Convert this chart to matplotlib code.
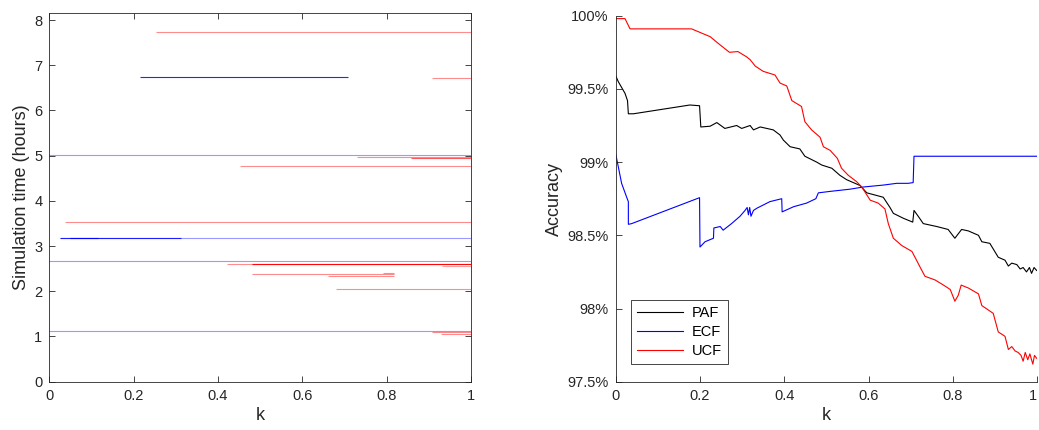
import matplotlib
matplotlib.use("Agg")
import matplotlib.pyplot as plt
from matplotlib.ticker import FuncFormatter

plt.rcParams['font.family'] = ['Liberation Sans', 'DejaVu Sans']
plt.rcParams['font.size'] = 10

# ---- left panel: run intervals over k (start, end, hours, opacity) ----
ecf_start = [0.214, 0.0, 0.026, 0.026, 0.05, 0.0, 0.0]
ecf_end = [0.708, 1.0, 1.0, 0.312, 0.115, 1.0, 1.0]
ecf_time = [6.73, 5.01, 3.175, 3.175, 3.18, 2.667, 1.13]
ecf_alpha = [0.85, 0.4, 0.4, 0.8, 0.9, 0.4, 0.4]

ucf_start = [0.254, 0.908, 0.73, 0.858, 0.451, 0.036, 0.422, 0.48, 0.93,
             0.481, 0.79, 0.66, 0.68, 0.908, 0.928]
ucf_end = [1.0, 1.0, 1.0, 1.0, 1.0, 1.0, 1.0, 1.0, 1.0,
           0.817, 0.817, 0.817, 1.0, 1.0, 1.0]
ucf_time = [7.73, 6.71, 4.96, 4.94, 4.77, 3.53, 2.60, 2.595, 2.56,
            2.39, 2.40, 2.335, 2.06, 1.10, 1.05]
ucf_alpha = [0.45, 0.45, 0.45, 0.65, 0.45, 0.45, 0.45, 0.95, 0.35,
             0.45, 0.45, 0.45, 0.45, 0.45, 0.45]

# ---- right panel: accuracy curves ----
paf_k = [0.0, 0.006, 0.022, 0.028, 0.03, 0.042, 0.176, 0.199, 0.202, 0.224,
         0.24, 0.259, 0.287, 0.299, 0.319, 0.327, 0.343, 0.374, 0.39, 0.398,
         0.414, 0.437, 0.449, 0.477, 0.489, 0.513, 0.532, 0.548, 0.58, 0.596,
         0.635, 0.651, 0.659, 0.683, 0.705, 0.708, 0.718, 0.73, 0.762, 0.789,
         0.805, 0.813, 0.821, 0.837, 0.861, 0.869, 0.888, 0.908, 0.924, 0.932,
         0.94, 0.952, 0.96, 0.967, 0.975, 0.982, 0.987, 0.993, 0.999]
paf_acc = [99.59, 99.55, 99.47, 99.42, 99.33, 99.33, 99.39, 99.385, 99.24, 99.245,
           99.27, 99.23, 99.25, 99.23, 99.25, 99.22, 99.24, 99.22, 99.185, 99.15,
           99.105, 99.09, 99.04, 99.0, 98.98, 98.958, 98.91, 98.88, 98.84, 98.79,
           98.76, 98.69, 98.65, 98.616, 98.59, 98.67, 98.63, 98.58, 98.56, 98.54,
           98.48, 98.51, 98.54, 98.53, 98.50, 98.456, 98.445, 98.35, 98.33, 98.29,
           98.31, 98.30, 98.27, 98.28, 98.25, 98.28, 98.24, 98.28, 98.26]

ecf_k = [0.0, 0.006, 0.014, 0.026, 0.03, 0.03, 0.038, 0.199, 0.2, 0.212,
         0.232, 0.233, 0.248, 0.255, 0.275, 0.295, 0.307, 0.312, 0.315, 0.318,
         0.321, 0.327, 0.335, 0.366, 0.394, 0.395, 0.422, 0.453, 0.475, 0.481,
         0.509, 0.556, 0.588, 0.635, 0.667, 0.694, 0.706, 0.708, 1.0]
ecf_acc = [99.055, 98.97, 98.855, 98.76, 98.73, 98.575, 98.58, 98.757, 98.42, 98.456,
           98.48, 98.55, 98.56, 98.535, 98.58, 98.63, 98.67, 98.69, 98.64, 98.69,
           98.63, 98.67, 98.685, 98.73, 98.75, 98.66, 98.695, 98.72, 98.75, 98.79,
           98.80, 98.815, 98.83, 98.843, 98.855, 98.855, 98.86, 99.04, 99.04]

ucf_k = [0.0, 0.022, 0.034, 0.18, 0.224, 0.248, 0.27, 0.29, 0.31, 0.319,
         0.331, 0.35, 0.378, 0.39, 0.406, 0.418, 0.441, 0.449, 0.465, 0.485,
         0.493, 0.509, 0.526, 0.536, 0.552, 0.572, 0.584, 0.604, 0.623, 0.639,
         0.647, 0.659, 0.679, 0.703, 0.714, 0.722, 0.734, 0.758, 0.778, 0.794,
         0.805, 0.813, 0.82, 0.837, 0.861, 0.869, 0.896, 0.908, 0.924, 0.932,
         0.94, 0.948, 0.955, 0.962, 0.967, 0.972, 0.978, 0.983, 0.99, 0.994, 0.999]
ucf_acc = [99.98, 99.98, 99.91, 99.91, 99.857, 99.80, 99.75, 99.755, 99.72, 99.70,
           99.656, 99.62, 99.595, 99.54, 99.52, 99.42, 99.38, 99.276, 99.22, 99.17,
           99.105, 99.08, 99.026, 98.958, 98.91, 98.866, 98.83, 98.74, 98.72, 98.68,
           98.58, 98.48, 98.43, 98.39, 98.33, 98.285, 98.22, 98.195, 98.16, 98.13,
           98.05, 98.09, 98.16, 98.14, 98.10, 98.02, 97.967, 97.84, 97.81, 97.72,
           97.74, 97.71, 97.70, 97.68, 97.64, 97.70, 97.65, 97.69, 97.62, 97.68, 97.66]

ink = (0.15, 0.15, 0.15)
k_ticks = [0, 0.2, 0.4, 0.6, 0.8, 1]
k_labels = ['0', '0.2', '0.4', '0.6', '0.8', '1']

fig = plt.figure(figsize=(10.39, 4.30), dpi=100)
ax1 = fig.add_axes([0.0475, 0.1123, 0.4059, 0.858])
ax2 = fig.add_axes([0.5926, 0.1123, 0.4055, 0.8512])

for s, e, t, a in zip(ecf_start, ecf_end, ecf_time, ecf_alpha):
    ax1.plot([s, e], [t, t], color='blue', alpha=a, lw=0.8, solid_capstyle='butt')
for s, e, t, a in zip(ucf_start, ucf_end, ucf_time, ucf_alpha):
    ax1.plot([s, e], [t, t], color='red', alpha=a, lw=0.8, solid_capstyle='butt')

ax1.set_xlim(0, 1)
ax1.set_ylim(0, 8.16)
ax1.set_xticks(k_ticks)
ax1.set_xticklabels(k_labels)
ax1.set_yticks(range(0, 9))
ax1.set_xlabel('k', fontsize=13, color=ink, labelpad=3)
ax1.set_ylabel('Simulation time (hours)', fontsize=13, color=ink, labelpad=3)
ax1.tick_params(direction='in', top=True, right=True, colors=ink, labelsize=10.5,
                length=4, width=0.6, pad=5)
for sp in ax1.spines.values():
    sp.set_color(ink)
    sp.set_linewidth(0.6)

ax2.plot(paf_k, paf_acc, color='black', lw=0.8, label='PAF')
ax2.plot(ecf_k, ecf_acc, color='blue', lw=0.8, label='ECF')
ax2.plot(ucf_k, ucf_acc, color='red', lw=0.8, label='UCF')
ax2.set_xlim(0, 1)
ax2.set_ylim(97.5, 100)
ax2.set_xticks(k_ticks)
ax2.set_xticklabels(k_labels)
# keep the last k label inside the figure edge
ax2.get_xticklabels()[-1].set_horizontalalignment('right')
ax2.set_yticks([97.5, 98, 98.5, 99, 99.5, 100])
ax2.yaxis.set_major_formatter(FuncFormatter(lambda v, p: f'{v:g}%'))
ax2.set_xlabel('k', fontsize=13, color=ink, labelpad=3)
ax2.set_ylabel('Accuracy', fontsize=13, color=ink, labelpad=3)
ax2.tick_params(direction='in', colors=ink, labelsize=10.5, length=4, width=0.6, pad=5)
ax2.spines['top'].set_visible(False)
ax2.spines['right'].set_visible(False)
for sp in ('left', 'bottom'):
    ax2.spines[sp].set_color(ink)
    ax2.spines[sp].set_linewidth(0.6)

leg = ax2.legend(loc='lower left', bbox_to_anchor=(0.036, 0.048), fontsize=10.5,
                 fancybox=False, framealpha=1, edgecolor=ink, handlelength=3.2,
                 borderaxespad=0, labelspacing=0.35, handletextpad=0.6)
leg.get_frame().set_linewidth(0.6)

fig.savefig('out.png', dpi=100)
